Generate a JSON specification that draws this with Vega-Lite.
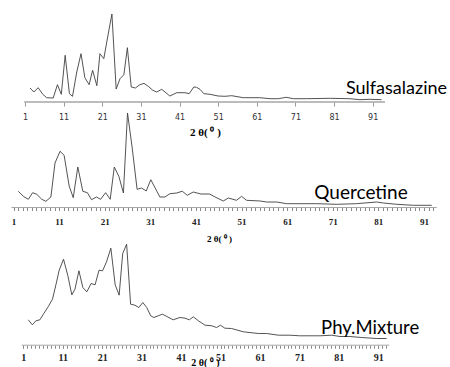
{
  "$schema": "https://vega.github.io/schema/vega-lite/v6.json",
  "padding": {"left": 5, "top": 12, "right": 0, "bottom": 0},
  "bounds": "flush",
  "spacing": 10,
  "background": "white",
  "config": {"view": {"stroke": null}},
  "datasets": {
    "sulfa": [
      {"t": 2.3, "i": 14}, {"t": 3.3, "i": 10}, {"t": 4.4, "i": 14.3}, {"t": 5.6, "i": 7.7}, {"t": 6.6, "i": 4.3},
      {"t": 8.3, "i": 4}, {"t": 9.4, "i": 17.3}, {"t": 10.4, "i": 7.7}, {"t": 11.4, "i": 46.7}, {"t": 12.5, "i": 8.3},
      {"t": 13.3, "i": 5.7}, {"t": 14.4, "i": 30}, {"t": 15.5, "i": 48.3}, {"t": 16.5, "i": 24.3}, {"t": 17.6, "i": 17.3},
      {"t": 18.5, "i": 31.7}, {"t": 19.6, "i": 16.3}, {"t": 20.4, "i": 48.3}, {"t": 21.4, "i": 43.3}, {"t": 22.4, "i": 65},
      {"t": 23.5, "i": 88}, {"t": 24.6, "i": 13}, {"t": 25.6, "i": 23.3}, {"t": 26.6, "i": 27.3}, {"t": 27.5, "i": 54.3},
      {"t": 28.5, "i": 15}, {"t": 29.6, "i": 14}, {"t": 30.6, "i": 17}, {"t": 31.8, "i": 18.7}, {"t": 32.9, "i": 15.7},
      {"t": 34.1, "i": 11.7}, {"t": 35.1, "i": 10}, {"t": 36.4, "i": 12.7}, {"t": 38.5, "i": 6}, {"t": 40.3, "i": 9.3},
      {"t": 42.4, "i": 9.3}, {"t": 43.5, "i": 8.3}, {"t": 44.7, "i": 15}, {"t": 45.4, "i": 14.7}, {"t": 46.3, "i": 12.7},
      {"t": 47.3, "i": 8.3}, {"t": 48.9, "i": 7.7}, {"t": 51.0, "i": 6}, {"t": 52.8, "i": 5.7}, {"t": 54.5, "i": 6.3},
      {"t": 57.5, "i": 4.3}, {"t": 61.8, "i": 4.3}, {"t": 64.4, "i": 3.3}, {"t": 66.6, "i": 3.3}, {"t": 68.6, "i": 4.7},
      {"t": 70.5, "i": 3.3}, {"t": 73.9, "i": 3.3}, {"t": 80.0, "i": 3.7}, {"t": 85.1, "i": 3.3}, {"t": 87.7, "i": 2.3},
      {"t": 90.3, "i": 2.7}, {"t": 93.3, "i": 2.3}
    ],
    "quer": [
      {"t": 2.05, "i": 16.2}, {"t": 3.15, "i": 11.2}, {"t": 4.25, "i": 8.2}, {"t": 5.2, "i": 14.8}, {"t": 6.1, "i": 13.2},
      {"t": 7.2, "i": 8.2}, {"t": 8.1, "i": 6.2}, {"t": 9.2, "i": 10.5}, {"t": 10.1, "i": 44.5}, {"t": 11.2, "i": 56.2},
      {"t": 12.1, "i": 52.2}, {"t": 13.2, "i": 21.5}, {"t": 14.1, "i": 9.8}, {"t": 15.1, "i": 40.5}, {"t": 16.2, "i": 16.2},
      {"t": 17.2, "i": 14.8}, {"t": 18.1, "i": 7.8}, {"t": 19.2, "i": 10.5}, {"t": 20.1, "i": 8.2}, {"t": 21.2, "i": 14.8},
      {"t": 22.2, "i": 8.2}, {"t": 23.1, "i": 40.5}, {"t": 24.1, "i": 31.2}, {"t": 25.1, "i": 14.5}, {"t": 26.0, "i": 94.5},
      {"t": 27.0, "i": 60.5}, {"t": 28.1, "i": 18.2}, {"t": 29.1, "i": 19.5}, {"t": 30.1, "i": 16.5}, {"t": 31.1, "i": 27.8},
      {"t": 33.1, "i": 10.5}, {"t": 34.2, "i": 10.5}, {"t": 35.3, "i": 13.8}, {"t": 36.8, "i": 14.5}, {"t": 38.0, "i": 16.3},
      {"t": 39.1, "i": 12.2}, {"t": 40.4, "i": 15.5}, {"t": 42.1, "i": 13.5}, {"t": 44.0, "i": 13.5}, {"t": 45.2, "i": 10.5},
      {"t": 47.0, "i": 6.5}, {"t": 48.1, "i": 9.5}, {"t": 49.9, "i": 7.2}, {"t": 51.0, "i": 11.2}, {"t": 52.1, "i": 7.2},
      {"t": 55.1, "i": 6.5}, {"t": 56.5, "i": 5.5}, {"t": 58.7, "i": 5.5}, {"t": 60.9, "i": 3.8}, {"t": 63.8, "i": 3.8},
      {"t": 67.5, "i": 3.8}, {"t": 71.9, "i": 3.2}, {"t": 76.2, "i": 3.8}, {"t": 80.6, "i": 5.5}, {"t": 82.1, "i": 4.5},
      {"t": 85.0, "i": 3.2}, {"t": 88.7, "i": 2.2}, {"t": 92.7, "i": 2.2}
    ],
    "mix": [
      {"t": 2.27, "i": 25.4}, {"t": 3.28, "i": 20.4}, {"t": 4.2, "i": 24.4}, {"t": 5.2, "i": 25.4}, {"t": 6.2, "i": 31.7},
      {"t": 7.3, "i": 38.4}, {"t": 8.4, "i": 46}, {"t": 9.3, "i": 61}, {"t": 10.1, "i": 75}, {"t": 11.2, "i": 86},
      {"t": 12.3, "i": 69.4}, {"t": 13.3, "i": 50.4}, {"t": 14.1, "i": 56}, {"t": 15.1, "i": 74.4}, {"t": 16.1, "i": 57.7},
      {"t": 17.1, "i": 53.4}, {"t": 18.2, "i": 61.7}, {"t": 19.2, "i": 60.4}, {"t": 20.2, "i": 75}, {"t": 21.1, "i": 74.4},
      {"t": 22.1, "i": 83.4}, {"t": 23.2, "i": 97}, {"t": 24.3, "i": 60.4}, {"t": 25.3, "i": 50}, {"t": 26.2, "i": 91.7},
      {"t": 27.2, "i": 101}, {"t": 28.2, "i": 41}, {"t": 29.3, "i": 40}, {"t": 30.3, "i": 37.7}, {"t": 31.3, "i": 42.7},
      {"t": 32.3, "i": 37.7}, {"t": 33.3, "i": 29.4}, {"t": 34.1, "i": 27.7}, {"t": 35.2, "i": 29.4}, {"t": 36.3, "i": 31},
      {"t": 37.4, "i": 28.7}, {"t": 39.0, "i": 25.4}, {"t": 40.7, "i": 27.7}, {"t": 42.0, "i": 27}, {"t": 43.1, "i": 25.4},
      {"t": 44.1, "i": 28.4}, {"t": 45.4, "i": 24.4}, {"t": 47.1, "i": 20}, {"t": 48.8, "i": 19.4}, {"t": 50.0, "i": 17.7},
      {"t": 51.0, "i": 20}, {"t": 52.1, "i": 17}, {"t": 53.8, "i": 16.7}, {"t": 56.8, "i": 13.4}, {"t": 60.6, "i": 11.7},
      {"t": 62.7, "i": 11.7}, {"t": 65.7, "i": 10}, {"t": 68.6, "i": 10}, {"t": 71.1, "i": 9.4}, {"t": 76.2, "i": 9.4},
      {"t": 79.2, "i": 10}, {"t": 81.3, "i": 8.7}, {"t": 83.8, "i": 8.7}, {"t": 86.8, "i": 7.7}, {"t": 90.6, "i": 6.7},
      {"t": 93.1, "i": 6.7}
    ]
  },
  "vconcat": [
    {
      "width": 440,
      "height": 88,
      "layer": [
        {
          "data": {"name": "sulfa"},
          "mark": {"type": "line", "color": "#404040", "strokeWidth": 0.9},
          "encoding": {
            "x": {
              "field": "t", "type": "quantitative",
              "scale": {"domain": [-4.177, 109.73], "nice": false, "zero": false},
              "axis": {
                "values": [1, 11, 21, 31, 41, 51, 61, 71, 81, 91],
                "domain": false, "grid": false,
                "tickSize": 4, "tickColor": "#999999", "tickWidth": 1,
                "labelFont": "DejaVu Sans", "labelFontSize": 8, "labelColor": "#333333",
                "labelBaseline": "middle", "labelPadding": 11, "labelFlush": false, "labelOverlap": false,
                "title": "2 θ( ⁰ )", "titleFont": "Liberation Serif", "titleFontSize": 11, "titleFontWeight": "bold",
                "titleColor": "#000000", "titleX": 200, "titleY": 30, "titleAlign": "center", "titleBaseline": "middle"
              }
            },
            "y": {"field": "i", "type": "quantitative", "scale": {"domain": [0, 88], "nice": false}, "axis": null}
          }
        },
        {
          "data": {"values": [{}]},
          "mark": {"type": "rule", "color": "#a6a6a6", "strokeWidth": 1.5},
          "encoding": {"x": {"datum": 0.8}, "x2": {"datum": 94.2}, "y": {"datum": 0}}
        },
        {
          "data": {"values": [{}]},
          "mark": {"type": "text", "text": "Sulfasalazine", "font": "Lato", "fontSize": 18, "align": "left", "baseline": "middle", "color": "#000000"},
          "encoding": {"x": {"datum": 84.1}, "y": {"datum": 13.3}}
        }
      ]
    },
    {
      "width": 440,
      "height": 95.5,
      "resolve": {"axis": {"x": "independent"}},
      "layer": [
        {
          "data": {"name": "quer"},
          "mark": {"type": "line", "color": "#404040", "strokeWidth": 0.9},
          "encoding": {
            "x": {
              "field": "t", "type": "quantitative",
              "scale": {"domain": [-0.864, 95.61], "nice": false, "zero": false},
              "axis": {
                "orient": "bottom",
                "values": [1, 11, 21, 31, 41, 51, 61, 71, 81, 91],
                "domain": false, "grid": false,
                "tickSize": 3, "tickColor": "#888888", "tickWidth": 1,
                "labelFont": "Liberation Serif", "labelFontSize": 9, "labelFontWeight": "bold", "labelColor": "#222222",
                "labelBaseline": "middle", "labelPadding": 11, "labelFlush": false, "labelOverlap": false,
                "title": "2 θ( ⁰ )", "titleFont": "Liberation Serif", "titleFontSize": 9, "titleFontWeight": "bold",
                "titleColor": "#000000", "titleX": 214, "titleY": 30.5, "titleAlign": "center", "titleBaseline": "middle"
              }
            },
            "y": {"field": "i", "type": "quantitative", "scale": {"domain": [0, 95.5], "nice": false}, "axis": null}
          }
        },
        {
          "data": {"values": [{}]},
          "mark": {"type": "rule", "color": "#a6a6a6", "strokeWidth": 1},
          "encoding": {
            "x": {
              "datum": 0.56,
              "axis": {
                "orient": "bottom",
                "values": [1,2,3,4,5,6,7,8,9,10,11,12,13,14,15,16,17,18,19,20,21,22,23,24,25,26,27,28,29,30,31,32,33,34,35,36,37,38,39,40,41,42,43,44,45,46,47,48,49,50,51,52,53,54,55,56,57,58,59,60,61,62,63,64,65,66,67,68,69,70,71,72,73,74,75,76,77,78,79,80,81,82,83,84,85,86,87,88,89,90,91,92,93],
                "domain": false, "grid": false, "labels": false, "title": null,
                "tickSize": 3, "tickColor": "#888888", "tickWidth": 1
              }
            },
            "x2": {"datum": 93.8},
            "y": {"datum": 0, "axis": null}
          }
        },
        {
          "data": {"values": [{}]},
          "mark": {"type": "text", "text": "Quercetine", "font": "Lato", "fontSize": 19, "align": "left", "baseline": "middle", "color": "#000000"},
          "encoding": {"x": {"datum": 66.95, "axis": null}, "y": {"datum": 14.8, "axis": null}}
        }
      ]
    },
    {
      "width": 440,
      "height": 127.2,
      "resolve": {"axis": {"x": "independent"}},
      "layer": [
        {
          "data": {"name": "mix"},
          "mark": {"type": "line", "color": "#404040", "strokeWidth": 0.9},
          "encoding": {
            "x": {
              "field": "t", "type": "quantitative",
              "scale": {"domain": [-3.64, 107.92], "nice": false, "zero": false},
              "axis": {
                "orient": "bottom",
                "values": [1, 11, 21, 31, 41, 51, 61, 71, 81, 91],
                "domain": false, "grid": false,
                "tickSize": 3, "tickColor": "#888888", "tickWidth": 1,
                "labelFont": "Liberation Serif", "labelFontSize": 10, "labelFontWeight": "bold", "labelColor": "#222222",
                "labelBaseline": "middle", "labelPadding": 9.5, "labelFlush": false, "labelOverlap": false,
                "title": "2 θ( ⁰ )", "titleFont": "Liberation Serif", "titleFontSize": 10, "titleFontWeight": "bold",
                "titleColor": "#000000", "titleX": 200, "titleY": 17, "titleAlign": "center", "titleBaseline": "middle"
              }
            },
            "y": {"field": "i", "type": "quantitative", "scale": {"domain": [0, 127.2], "nice": false}, "axis": null}
          }
        },
        {
          "data": {"values": [{}]},
          "mark": {"type": "rule", "color": "#a6a6a6", "strokeWidth": 1},
          "encoding": {
            "x": {
              "datum": 0.6,
              "axis": {
                "orient": "bottom",
                "values": [1,2,3,4,5,6,7,8,9,10,11,12,13,14,15,16,17,18,19,20,21,22,23,24,25,26,27,28,29,30,31,32,33,34,35,36,37,38,39,40,41,42,43,44,45,46,47,48,49,50,51,52,53,54,55,56,57,58,59,60,61,62,63,64,65,66,67,68,69,70,71,72,73,74,75,76,77,78,79,80,81,82,83,84,85,86,87,88,89,90,91,92,93],
                "domain": false, "grid": false, "labels": false, "title": null,
                "tickSize": 3, "tickColor": "#888888", "tickWidth": 1
              }
            },
            "x2": {"datum": 93.8},
            "y": {"datum": 0, "axis": null}
          }
        },
        {
          "data": {"values": [{}]},
          "mark": {"type": "text", "text": "Phy.Mixture", "font": "Lato", "fontSize": 18.5, "align": "left", "baseline": "middle", "color": "#000000"},
          "encoding": {"x": {"datum": 76.5, "axis": null}, "y": {"datum": 17.7, "axis": null}}
        }
      ]
    }
  ]
}
